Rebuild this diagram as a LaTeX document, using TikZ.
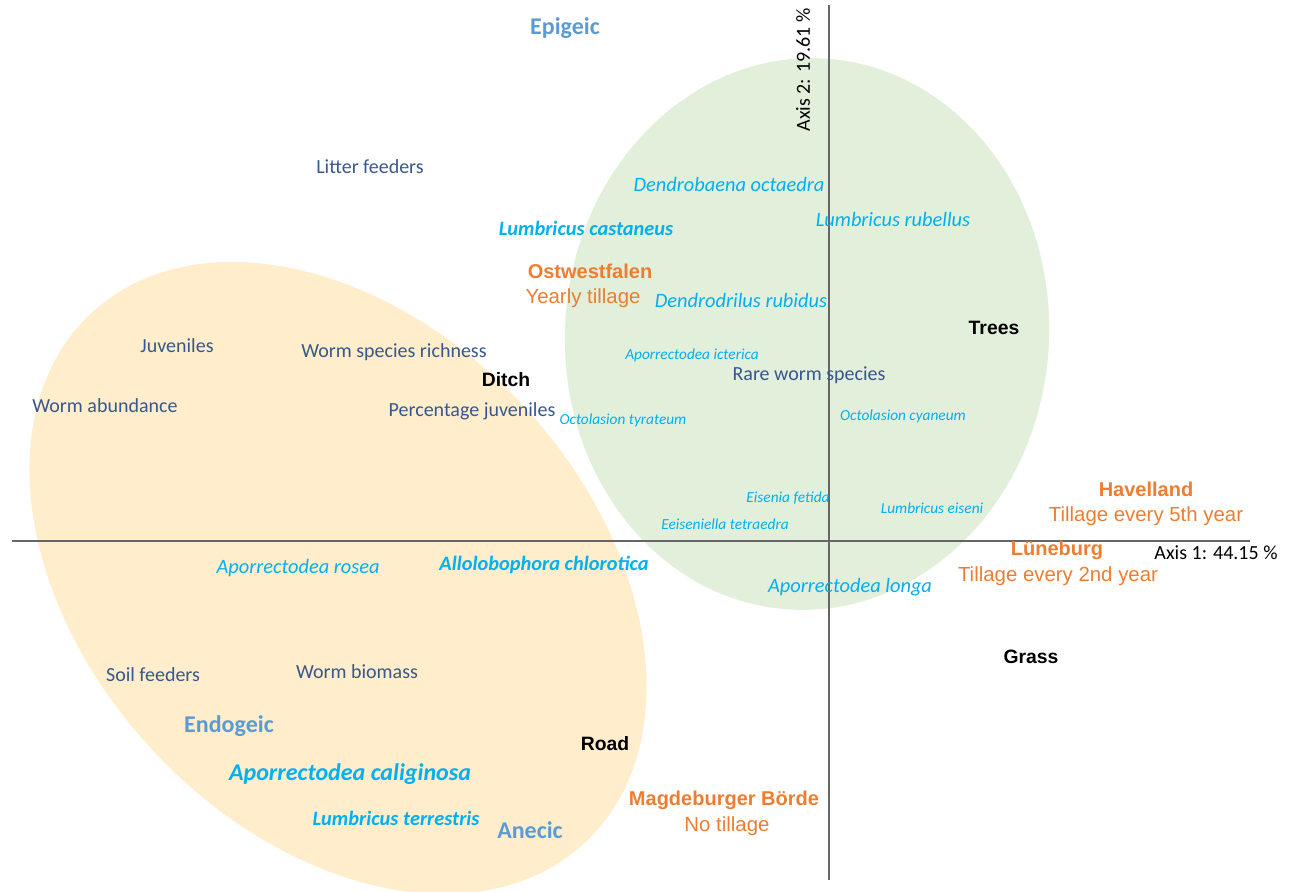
\documentclass[tikz,border=0pt]{standalone}
\usepackage{fontspec}
\setmainfont{Carlito}
\newfontfamily\arialfont{Liberation Sans}
\definecolor{varblue}{RGB}{56,87,140}
\definecolor{speccyan}{RGB}{0,176,240}
\definecolor{guildblue}{RGB}{91,155,213}
\definecolor{siteorange}{RGB}{237,125,49}
\definecolor{treegreen}{RGB}{226,239,218}
\definecolor{roadyellow}{RGB}{255,237,204}

\begin{document}
\begin{tikzpicture}[x=0.75pt,y=-0.75pt,
				var/.style={font=\fontsize{15}{18}\selectfont,text=varblue,inner sep=0pt},
				spec/.style={font=\fontsize{15.3}{18}\selectfont\itshape,text=speccyan,inner sep=0pt},
				specsm/.style={spec,font=\fontsize{11.5}{14}\selectfont\itshape},
				specbf/.style={spec,font=\fontsize{15.3}{18}\selectfont\bfseries\itshape},
				guild/.style={font=\fontsize{18}{22}\selectfont\bfseries,text=guildblue,inner sep=0pt},
				site/.style={font=\arialfont\fontsize{15}{18}\selectfont\bfseries,text=siteorange,inner sep=0pt},
				till/.style={font=\arialfont\fontsize{15.3}{18}\selectfont,text=siteorange,inner sep=0pt},
				habitat/.style={font=\arialfont\fontsize{14.5}{18}\selectfont\bfseries,inner sep=0pt},
				axlbl/.style={font=\fontsize{15}{18}\selectfont,inner sep=0pt},
				axis/.style={draw=black!60,line width=1pt}]
				\clip (0,0) rectangle (1296,892);
				\fill[roadyellow,rotate around={-47:(338,578)}] (338,578) ellipse [x radius=362,y radius=253];
				\fill[treegreen,rotate around={-4:(807,334)}] (807,334) ellipse [x radius=242,y radius=276];
				\coordinate (xl) at (12,541);
				\coordinate (xr) at (1250,541);
				\coordinate (yt) at (829,5);
				\coordinate (yb) at (829,880);
				\draw[axis] (xl) -- (xr);
				\draw[axis] (yt) -- (yb);
				\node[axlbl] (ax1) at (1216,553) {Axis 1: 44.15 \%};
				\node[axlbl,rotate=90] (ax2) at (803,70) {Axis 2: 19.61 \%};
				\node[guild] (epigeic) at (565,28) {Epigeic};
				\node[guild] (endogeic) at (229,726) {Endogeic};
				\node[guild] (anecic) at (530,830) {Anecic};
				\node[var] (litter) at (370,167) {Litter feeders};
				\node[var] (juv) at (177,346) {Juveniles};
				\node[var] (richness) at (394,352) {Worm species richness};
				\node[var] (rare) at (809,375) {Rare worm species};
				\node[var] (abundance) at (105,406) {Worm abundance};
				\node[var] (pctjuv) at (472,411) {Percentage juveniles};
				\node[var] (soil) at (153,675) {Soil feeders};
				\node[var] (biomass) at (357,672) {Worm biomass};
				\node[spec] (doct) at (729,184) {Dendrobaena octaedra};
				\node[spec] (lrub) at (893,219) {Lumbricus rubellus};
				\node[specbf] (lcas) at (586,228) {Lumbricus castaneus};
				\node[spec] (drub) at (741,300) {Dendrodrilus rubidus};
				\node[specsm] (aict) at (692,355) {Aporrectodea icterica};
				\node[specsm] (otyr) at (623,420) {Octolasion tyrateum};
				\node[specsm] (ocya) at (903,416) {Octolasion cyaneum};
				\node[specsm] (efet) at (788,498) {Eisenia fetida};
				\node[specsm] (leis) at (932,508) {Lumbricus eiseni};
				\node[specsm] (etet) at (725,524) {Eeiseniella tetraedra};
				\node[spec] (aros) at (298,568) {Aporrectodea rosea};
				\node[specbf] (achl) at (544,565) {Allolobophora chlorotica};
				\node[spec] (alon) at (850,587) {Aporrectodea longa};
				\node[specbf,font=\fontsize{18}{22}\selectfont\bfseries\itshape] (acal) at (350,774) {Aporrectodea caliginosa};
				\node[specbf] (lter) at (396,818) {Lumbricus terrestris};
				\node[site] (ostw) at (590,271) {Ostwestfalen};
				\node[till] (ostwt) at (583,298) {Yearly tillage};
				\node[site] (havl) at (1146,489) {Havelland};
				\node[till] (havlt) at (1146,516) {Tillage every 5th year};
				\node[site] (lueb) at (1057,550) {Lüneburg};
				\node[till] (luebt) at (1058,576) {Tillage every 2nd year};
				\node[site] (magd) at (724,800) {Magdeburger Börde};
				\node[till] (magdt) at (727,826) {No tillage};
				\node[habitat] (trees) at (994,328) {Trees};
				\node[habitat] (ditch) at (506,380) {Ditch};
				\node[habitat] (grass) at (1031,657) {Grass};
				\node[habitat] (road) at (605,744) {Road};
			\end{tikzpicture}
\end{document}
